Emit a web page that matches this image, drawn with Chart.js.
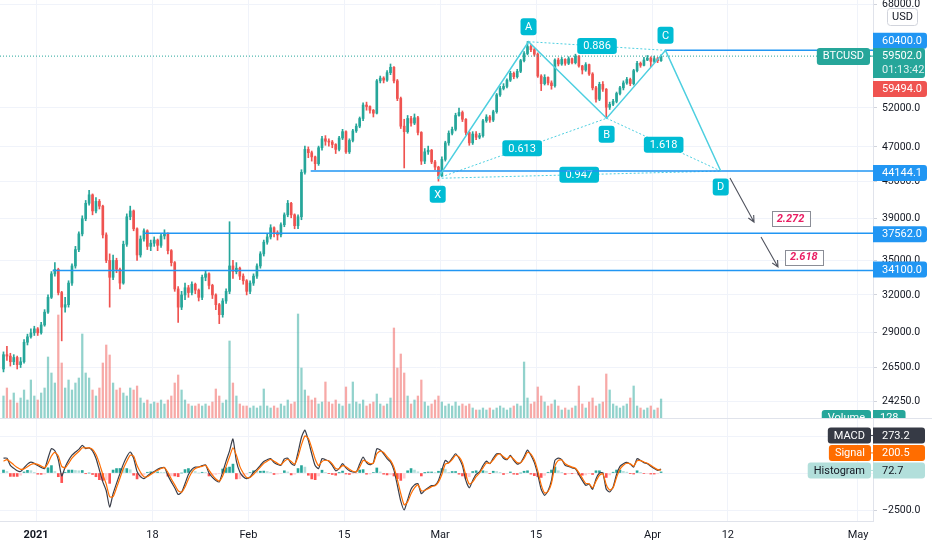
<!DOCTYPE html>
<html>
<head>
<meta charset="utf-8">
<script src="https://cdn.jsdelivr.net/npm/chart.js@4.4.1/dist/chart.umd.min.js"></script>
<style>
  html, body { margin: 0; padding: 0; background: #fff; }
  #wrap { position: relative; width: 932px; height: 550px; overflow: hidden; }
  #main { position: absolute; left: 0; top: 0; }
  #osc { position: absolute; left: 0; top: 419px; }
  #sep { position: absolute; left: 0; top: 418px; width: 932px; height: 1px; background: #e0e3eb; }
</style>
</head>
<body>
<div id="wrap">
  <canvas id="main" width="932" height="418"></canvas>
  <div id="sep"></div>
  <canvas id="osc" width="932" height="131"></canvas>
</div>
<script>
// BTCUSD, 12h candles from 27 Dec 2020; x values are days from 1 Jan 2021
const firstDay = -4.75;
const stepDays = 0.5;
const firstOpen = 26400;

const closes = [
  27400, 27300, 26900, 27200, 26700, 26900, 28300, 28700, 29000, 29300,
  29000, 29600, 30600, 31800, 33800, 34200, 32200, 31000, 31200, 33000,
  34500, 36000, 37500, 39000, 40600, 41500, 39800, 40800, 40300, 37400,
  35000, 33500, 35000, 34200, 33000, 36500, 39200, 39800, 38000, 35500,
  37000, 37800, 36300, 36600, 36900, 36400, 37300, 37500, 35900, 34800,
  32500, 31000, 32000, 32600, 32200, 32900, 32400, 31800, 33500, 33800,
  32800, 32000, 31200, 30400, 31500, 32300, 34500, 34000, 34300, 33600,
  33200, 32300, 33000, 33600, 34500, 35600, 36700, 37200, 38100, 37600,
  37400, 38400, 39400, 40600, 39400, 38300, 39200, 44000, 46700, 46300,
  45800, 45000, 46900, 48000, 47700, 47600, 47300, 46700, 48100, 48900,
  46400, 47800, 49000, 49600, 50600, 52400, 52200, 51700, 51300, 55800,
  56200, 55900, 57000, 57800, 55800, 53300, 49600, 48900, 50600, 50000,
  50700, 48800, 45300, 46400, 46600, 45200, 44600, 43600, 45500, 47500,
  48700, 49200, 51000, 51400, 50500, 48800, 47500, 48600, 48200, 48400,
  50300, 50800, 50400, 51500, 53800, 54700, 55000, 55900, 56900, 56400,
  57200, 58800, 59900, 61000, 60500, 59800, 56500, 55400, 56300, 55500,
  55100, 58900, 58300, 59000, 58400, 59100, 58500, 59500, 58000, 57400,
  58200, 56800, 54800, 53200, 55300, 54600, 52100, 52500, 52900, 54000,
  54800, 55500, 56000, 55400, 57300, 58400, 58100, 58900, 59200, 58700,
  59100, 58800, 59502
];
const highs = [
  27600, 28000, 27500, 27400, 27300, 27200, 28500, 28900, 29300, 29500,
  29400, 29800, 30800, 32000, 34000, 34800, 34300, 32300, 31800, 33200,
  34700, 36300, 37700, 39300, 40900, 42000, 41600, 41200, 41000, 40400,
  37600, 35600, 35500, 35200, 34300, 36800, 39500, 40300, 39900, 38100,
  37300, 38000, 37900, 36900, 37200, 37000, 37500, 37900, 37600, 36000,
  34900, 32700, 32300, 33000, 32800, 33100, 33000, 32500, 33700, 34100,
  33900, 32900, 32100, 31300, 31700, 32500, 38700, 35000, 34800, 34400,
  33800, 33300, 33200, 33800, 34700, 35800, 36900, 37500, 38400, 38200,
  37800, 38600, 39600, 40900, 40700, 39500, 39400, 44300, 47100, 47000,
  46500, 45900, 47100, 48300, 48400, 48000, 47800, 47400, 48300, 49200,
  49000, 48000, 49200, 49900, 50800, 52700, 52800, 52300, 51800, 56000,
  56500, 56400, 57300, 58300, 57900, 56000, 53500, 50500, 51000, 50900,
  51200, 50900, 48900, 46800, 47100, 46700, 45400, 44700, 45800, 47700,
  49000, 49500, 51300, 52000, 51600, 50600, 48900, 48900, 48900, 48700,
  50500, 51100, 51000, 51700, 54000, 55000, 55400, 56100, 57200, 57100,
  57500, 59000, 60200, 61800, 61300, 60700, 60000, 56700, 56700, 56400,
  55800, 59100, 59200, 59300, 59100, 59400, 59200, 59800, 59600, 58100,
  58500, 58300, 57000, 55000, 55600, 55700, 54700, 52800, 53200, 54200,
  55000, 55800, 56300, 56200, 57500, 58700, 58600, 59300, 59600, 59400,
  59500, 59300, 59700
];
const lows = [
  26200, 27000, 26600, 26700, 26400, 26500, 26800, 28100, 28600, 28800,
  28800, 28900, 29500, 30500, 31700, 33600, 32000, 28400, 30600, 31000,
  32800, 34300, 35800, 37300, 38800, 40400, 39400, 39600, 40000, 37100,
  34800, 31000, 33300, 33900, 32500, 32900, 36300, 38900, 37800, 35000,
  35300, 36800, 36000, 35900, 36300, 35900, 36200, 37000, 35600, 34500,
  32300, 29800, 30800, 31600, 31800, 32000, 32100, 31500, 31600, 33200,
  32500, 31700, 30800, 29700, 30200, 31300, 32100, 33400, 33800, 33300,
  32900, 32000, 32100, 32800, 33400, 34300, 35400, 36500, 37000, 37200,
  36900, 37200, 38200, 39200, 39100, 38000, 38000, 38900, 43800, 45700,
  45300, 44300, 44800, 46600, 47200, 47100, 46900, 46200, 46500, 47900,
  46200, 46200, 47600, 48800, 49400, 50300, 51700, 51300, 50800, 51200,
  55500, 55500, 55700, 56700, 55500, 53000, 49300, 44500, 48700, 49600,
  49800, 48500, 44900, 45000, 46100, 45000, 44300, 43000, 43500, 45300,
  47200, 48500, 49000, 50900, 50200, 48500, 47200, 47300, 47900, 48000,
  48200, 50100, 50100, 50200, 51300, 53600, 54500, 54800, 55700, 56100,
  56200, 57000, 58600, 59700, 60200, 59500, 56300, 54400, 55200, 55200,
  54600, 54900, 58000, 58100, 58100, 58200, 58300, 58300, 57800, 56800,
  57200, 56600, 54500, 52800, 53000, 54300, 50700, 51800, 52300, 52700,
  53800, 54500, 55300, 55100, 55200, 57100, 57800, 58000, 58800, 57900,
  58500, 58500, 58700
];
const volumes = [
  22, 30, 18, 25, 15, 20, 28, 18, 38, 22,
  18, 25, 30, 61, 45, 35, 103, 55, 30, 38,
  28, 35, 40, 84, 45, 40, 28, 22, 30, 55,
  73, 63, 35, 28, 30, 25, 22, 30, 28, 32,
  20, 15, 18, 14, 16, 15, 18, 14, 18, 22,
  35, 43, 28, 18, 14, 12, 12, 14, 12, 14,
  12, 16, 29, 22, 15, 18, 77, 35, 22, 14,
  12, 12, 10, 12, 10, 12, 29, 12, 10, 12,
  10, 14, 12, 18, 14, 16, 104, 50, 28, 22,
  18, 20, 14, 16, 36, 16, 14, 18, 14, 12,
  31, 14, 36, 16, 14, 18, 12, 14, 16, 24,
  14, 12, 14, 20, 90, 50, 64, 45, 22, 14,
  18, 22, 38, 16, 12, 14, 18, 22, 16, 12,
  14, 12, 16, 12, 14, 12, 14, 10, 8, 8,
  10, 8, 10, 8, 10, 12, 10, 8, 10, 12,
  14, 12, 56, 20, 14, 16, 31, 22, 16, 12,
  14, 18, 12, 8, 10, 8, 10, 12, 32, 14,
  10, 16, 20, 12, 14, 16, 44, 28, 14, 12,
  10, 12, 14, 20, 32, 12, 10, 8, 10, 12,
  8, 10, 19
];
const macdLine = [
  1000, 1000, 520, 320, 150, 100, 350, 600, 740, 650,
  500, 380, 290, 1000, 1650, 1500, 900, -200, 400, 850,
  1200, 1420, 1600, 1870, 1650, 1700, 1500, 1000, 200, -600,
  -1200, -2300, -1400, -700, -45, 600, 1100, 1420, 1000, 100,
  -250, -380, -200, -20, 100, 250, 350, 380, -160, -600,
  -1000, -1450, -1300, -720, -100, 250, 400, 400, 500, 550,
  0, -300, -500, -600, 70, 800, 1500, 2300, 800, 70,
  -250, -380, -270, 50, 250, 520, 780, 900, 970, 700,
  580, 520, 950, 1000, 650, 520, 1400, 2400, 2900, 2200,
  1300, 500, 300, 970, 900, 800, 520, 150, 300, 630,
  350, 150, 70, 70, 600, 1080, 700, 560, 700, 1640,
  1550, 1300, 970, 750, 200, -830, -1900, -2500, -1800, -1100,
  -800, -720, -1400, -1170, -1000, -850, -830, -500, 200, 855,
  700, 1000, 1300, 1000, 500, -500, -1000, -500, -100, 70,
  500, 800, 630, 1000, 1300, 1300, 1000, 900, 1190, 850,
  600, 700, 1100, 1550, 1200, 700, -100, -1100, -1510, -1200,
  -500, 855, 1000, 900, 520, 450, 350, 290, -100, -500,
  -830, -750, -1100, -400, 0, 0, -1100, -1280, -945, -100,
  450, 630, 720, 600, 400, 970, 850, 700, 630, 450,
  300, 180, 273.2
];
const signalLine = [
  800, 900, 750, 550, 380, 250, 280, 420, 580, 640,
  580, 470, 360, 650, 1150, 1400, 1150, 450, 350, 650,
  1000, 1250, 1450, 1700, 1700, 1700, 1600, 1250, 650, -100,
  -750, -1600, -1600, -1000, -350, 300, 800, 1200, 1150, 500,
  50, -250, -250, -100, 50, 180, 300, 360, 50, -400,
  -800, -1200, -1300, -950, -400, 50, 300, 400, 450, 520,
  200, -150, -400, -550, -200, 450, 1100, 1700, 1200, 450,
  0, -300, -300, -100, 150, 400, 650, 800, 920, 800,
  650, 560, 800, 930, 780, 600, 1100, 1900, 2500, 2350,
  1700, 950, 500, 780, 860, 820, 620, 300, 290, 500,
  420, 250, 120, 80, 400, 850, 780, 630, 670, 1300,
  1480, 1380, 1100, 850, 400, -450, -1400, -2150, -1950, -1400,
  -1000, -800, -1200, -1180, -1070, -920, -860, -620, -100, 600,
  680, 900, 1200, 1080, 700, -150, -750, -600, -250, 0,
  350, 680, 650, 880, 1200, 1280, 1100, 950, 1120, 930,
  700, 700, 980, 1400, 1280, 880, 150, -800, -1350, -1250,
  -700, 450, 850, 880, 620, 500, 400, 320, 30, -350,
  -700, -730, -1000, -550, -150, -50, -800, -1150, -1000, -300,
  250, 520, 660, 620, 470, 820, 840, 740, 660, 520,
  370, 230, 200.5
];

const dateTicks = [0, 17, 31, 45, 59, 73, 90, 101, 120];
const dateLabels = ['2021', '18', 'Feb', '15', 'Mar', '15', 'Apr', '12', 'May'];
const priceTicks = [24250, 26500, 29000, 32000, 35000, 39000, 43000, 47000, 52000, 68000];
const macdTicks = [-2500, 0, 2500];

// XABCD pattern drawn on the chart
const patternNames = ['X', 'A', 'B', 'C', 'D'];
const patternDays = [58.64, 71.9, 83.3, 91.9, 99.96];
const patternPrices = [43320, 61770, 50630, 60400, 44144.1];
const ratioPairs = [[0, 2], [1, 3], [2, 4], [0, 4]];
const ratioLabels = ['0.613', '0.886', '1.618', '0.947'];

const levelPrices = [60400, 44144.1, 37562, 34100];
const levelStartDays = [91.9, 40.1, 15.67, 2.43];

const targetLabels = ['2.272', '2.618'];
const targetDays = [110.15, 112.1];
const targetPrices = [38976, 35300];
const arrowFrom = [[101.31, 43350], [105.84, 37190]];
const arrowTo = [[104.82, 38670], [108.32, 34410]];

const lastPrice = 59502;
const prevClose = 59494;
const countdown = '01:13:42';
const volumeLast = 128;

// view window
const xMin = -5.26, xMax = 122.19;
const priceMin = 23244, priceMax = 68838;
const macdMin = -3243, macdMax = 3649;

Chart.defaults.font.family = 'Roboto, "Noto Sans", sans-serif';
Chart.defaults.color = '#131722';

const gridCol = '#f0f3fa';
const upCol = '#26a69a', downCol = '#ef5350';
const patCol = '#4dcfe0', patBox = '#00bcd4';
const lvlCol = '#2196f3';

const candleDays = closes.map((c, i) => firstDay + i * stepDays);
const opens = closes.map((c, i) => i === 0 ? firstOpen : closes[i - 1]);
const isUp = closes.map((c, i) => c >= opens[i]);

function rr(ctx, x, y, w, h, r) {
  const [tl, tr, br, bl] = Array.isArray(r) ? r : [r, r, r, r];
  ctx.beginPath();
  ctx.moveTo(x + tl, y);
  ctx.lineTo(x + w - tr, y); ctx.quadraticCurveTo(x + w, y, x + w, y + tr);
  ctx.lineTo(x + w, y + h - br); ctx.quadraticCurveTo(x + w, y + h, x + w - br, y + h);
  ctx.lineTo(x + bl, y + h); ctx.quadraticCurveTo(x, y + h, x, y + h - bl);
  ctx.lineTo(x, y + tl); ctx.quadraticCurveTo(x, y, x + tl, y);
  ctx.closePath();
}

function boxText(ctx, cx, cy, text, bg, fg, padX, h) {
  const w = ctx.measureText(text).width + padX * 2;
  ctx.fillStyle = bg;
  rr(ctx, cx - w / 2, cy - h / 2, w, h, 3);
  ctx.fill();
  ctx.fillStyle = fg;
  ctx.textAlign = 'center';
  ctx.textBaseline = 'middle';
  ctx.fillText(text, cx, cy + 0.5);
}

// right-scale tag, optional name tag to its left
function scaleTag(ctx, ax, cy, text, bg, fg, name, nameBg, nameFg) {
  const h = 16;
  const w = Math.max(52, ctx.measureText(text).width + 14);
  ctx.fillStyle = bg;
  rr(ctx, ax, cy - h / 2, w, h, [0, 3, 3, 0]);
  ctx.fill();
  ctx.fillStyle = fg;
  ctx.textAlign = 'left';
  ctx.textBaseline = 'middle';
  ctx.fillText(text, ax + 9, cy + 0.5);
  if (name) {
    const nw = ctx.measureText(name).width + 12;
    ctx.fillStyle = nameBg || bg;
    rr(ctx, ax - 2 - nw, cy - h / 2, nw, h, 3);
    ctx.fill();
    ctx.fillRect(ax - 3, cy - 0.5, 3, 1);
    ctx.fillStyle = nameFg || fg;
    ctx.textAlign = 'center';
    ctx.fillText(name, ax - 2 - nw / 2, cy + 0.5);
  }
}

const pt = i => ({ x: patternDays[i], y: patternPrices[i] });
const lineDs = (label, data, color, width, dash, order) => ({
  type: 'line', label, data, borderColor: color, borderWidth: width, borderDash: dash,
  pointRadius: 0, tension: 0, fill: false, order, yAxisID: 'y', xAxisID: 'x'
});

const mainDecor = {
  id: 'mainDecor',
  afterDatasetDraw(chart, args) {
    // ratio boxes sit under the level lines
    if (chart.data.datasets[args.index].label !== 'XD') return;
    const { x, y } = chart.scales;
    const ctx = chart.ctx;
    ctx.save();
    ctx.font = '11px Roboto, sans-serif';
    ratioPairs.forEach(([a, b], k) => {
      const cx = (x.getPixelForValue(patternDays[a]) + x.getPixelForValue(patternDays[b])) / 2;
      const cy = (y.getPixelForValue(patternPrices[a]) + y.getPixelForValue(patternPrices[b])) / 2;
      boxText(ctx, cx, cy, ratioLabels[k], patBox, '#fff', 6, 16);
    });
    ctx.restore();
  },
  afterDatasetsDraw(chart) {
    const { x, y } = chart.scales;
    const ctx = chart.ctx;
    ctx.save();
    ctx.font = '11px Roboto, sans-serif';
    patternNames.forEach((n, i) => {
      const above = i === 1 || i === 3;
      const cx = x.getPixelForValue(patternDays[i]);
      const cy = y.getPixelForValue(patternPrices[i]) + (above ? -15 : 16);
      ctx.fillStyle = patBox;
      rr(ctx, cx - 8, cy - 8.5, 16, 17, 3);
      ctx.fill();
      ctx.fillStyle = '#fff';
      ctx.textAlign = 'center';
      ctx.textBaseline = 'middle';
      ctx.fillText(n, cx, cy + 0.5);
    });
    // arrows
    ctx.strokeStyle = '#50535e';
    ctx.lineWidth = 1.1;
    arrowFrom.forEach((f, k) => {
      const x0 = x.getPixelForValue(f[0]), y0 = y.getPixelForValue(f[1]);
      const x1 = x.getPixelForValue(arrowTo[k][0]), y1 = y.getPixelForValue(arrowTo[k][1]);
      const a = Math.atan2(y1 - y0, x1 - x0);
      ctx.beginPath();
      ctx.moveTo(x0, y0); ctx.lineTo(x1, y1);
      ctx.moveTo(x1 - 7 * Math.cos(a - 0.45), y1 - 7 * Math.sin(a - 0.45));
      ctx.lineTo(x1, y1);
      ctx.lineTo(x1 - 7 * Math.cos(a + 0.45), y1 - 7 * Math.sin(a + 0.45));
      ctx.stroke();
    });
    // target boxes
    ctx.font = 'italic bold 11px Roboto, sans-serif';
    targetLabels.forEach((t, k) => {
      const cx = x.getPixelForValue(targetDays[k]), cy = y.getPixelForValue(targetPrices[k]);
      const w = ctx.measureText(t).width + 10, h = 15;
      ctx.fillStyle = '#fff';
      ctx.fillRect(cx - w / 2, cy - h / 2, w, h);
      ctx.strokeStyle = '#8a8d96';
      ctx.lineWidth = 1;
      ctx.strokeRect(Math.round(cx - w / 2) + 0.5, Math.round(cy - h / 2) + 0.5, Math.round(w), h);
      ctx.fillStyle = '#e91e63';
      ctx.textAlign = 'center';
      ctx.textBaseline = 'middle';
      ctx.fillText(t, cx, cy + 0.5);
    });
    ctx.restore();
  },
  afterDraw(chart) {
    const y = chart.scales.y;
    const ctx = chart.ctx;
    const ax = chart.chartArea.right;
    ctx.save();
    ctx.font = '11px Roboto, sans-serif';
    const ly = y.getPixelForValue(lastPrice);
    scaleTag(ctx, ax, y.getPixelForValue(levelPrices[0]) - 9.5, levelPrices[0].toFixed(1), lvlCol, '#fff');
    // last price with countdown
    ctx.fillStyle = upCol;
    rr(ctx, ax, ly - 8, 52, 30, [0, 3, 3, 0]);
    ctx.fill();
    ctx.fillStyle = '#fff';
    ctx.textAlign = 'left';
    ctx.textBaseline = 'middle';
    ctx.fillText(lastPrice.toFixed(1), ax + 9, ly + 0.5);
    ctx.fillStyle = 'rgba(255,255,255,0.85)';
    ctx.fillText(countdown, ax + 9, ly + 14);
    const nw = ctx.measureText('BTCUSD').width + 12;
    ctx.fillStyle = upCol;
    rr(ctx, ax - 3 - nw, ly - 8, nw, 17, 3);
    ctx.fill();
    ctx.fillRect(ax - 3, ly - 0.5, 3, 1);
    ctx.fillStyle = '#fff';
    ctx.textAlign = 'center';
    ctx.fillText('BTCUSD', ax - 3 - nw / 2, ly + 0.5);
    scaleTag(ctx, ax, ly + 33, prevClose.toFixed(1), downCol, '#fff');
    const offs = [0, 2, 1, -1];
    for (let i = 1; i < levelPrices.length; i++) {
      scaleTag(ctx, ax, y.getPixelForValue(levelPrices[i]) + offs[i], levelPrices[i].toFixed(1), lvlCol, '#fff');
    }
    // volume tag, cut by the pane edge
    ctx.save();
    ctx.beginPath(); ctx.rect(0, 0, chart.width, chart.height); ctx.clip();
    const vy = chart.height - 8;
    const vw = ctx.measureText(String(volumeLast)).width + 14;
    ctx.fillStyle = upCol;
    rr(ctx, ax, vy, vw, 16, [0, 3, 3, 0]); ctx.fill();
    const vn = ctx.measureText('Volume').width + 12;
    rr(ctx, ax - 2 - vn, vy, vn, 16, 3); ctx.fill();
    ctx.fillStyle = '#fff';
    ctx.textAlign = 'left';
    ctx.fillText(String(volumeLast), ax + 7, vy + 8.5);
    ctx.textAlign = 'center';
    ctx.fillText('Volume', ax - 2 - vn / 2, vy + 8.5);
    ctx.restore();
    // currency box
    ctx.fillStyle = '#fff';
    rr(ctx, 887.5, 8.5, 30, 17, 3); ctx.fill();
    ctx.strokeStyle = '#d1d4dc'; ctx.lineWidth = 1; ctx.stroke();
    ctx.fillStyle = '#131722';
    ctx.textAlign = 'center';
    ctx.fillText('USD', 902.5, 17.5);
    ctx.restore();
  }
};

const mainChart = new Chart(document.getElementById('main'), {
  type: 'bar',
  data: {
    datasets: [
      {
        type: 'bar', label: 'volume', yAxisID: 'v', xAxisID: 'x', order: 10, grouped: false,
        data: volumes.map((v, i) => ({ x: candleDays[i], y: v })),
        backgroundColor: isUp.map(u => u ? 'rgba(38,166,154,0.5)' : 'rgba(239,83,80,0.5)'),
        barThickness: 1.6
      },
      {
        type: 'bar', label: 'wick', yAxisID: 'y', xAxisID: 'x', order: 9, grouped: false,
        data: closes.map((c, i) => ({ x: candleDays[i], y: [lows[i], highs[i]] })),
        backgroundColor: isUp.map(u => u ? upCol : downCol),
        barThickness: 1
      },
      {
        type: 'bar', label: 'body', yAxisID: 'y', xAxisID: 'x', order: 8, grouped: false,
        data: closes.map((c, i) => ({ x: candleDays[i], y: [opens[i], c] })),
        backgroundColor: isUp.map(u => u ? upCol : downCol),
        barThickness: 2, minBarLength: 1
      },
      lineDs('XB', [pt(0), pt(2)], patCol, 1, [2, 2], 7),
      lineDs('AC', [pt(1), pt(3)], patCol, 1, [2, 2], 7),
      lineDs('BD', [pt(2), pt(4)], patCol, 1, [2, 2], 7),
      lineDs('XD', [pt(0), pt(4)], patCol, 1, [2, 2], 6.9),
      ...levelPrices.map((p, i) => lineDs('level' + i, [{ x: levelStartDays[i], y: p }, { x: xMax, y: p }], lvlCol, 1.5, [], 5)),
      lineDs('last', [{ x: xMin, y: lastPrice }, { x: xMax, y: lastPrice }], upCol, 1, [1, 2], 4),
      lineDs('pattern', patternNames.map((n, i) => pt(i)), patCol, 1.5, [], 3)
    ]
  },
  options: {
    responsive: false,
    animation: false,
    events: [],
    layout: { padding: 0 },
    plugins: { legend: { display: false }, tooltip: { enabled: false } },
    scales: {
      x: {
        type: 'linear', min: xMin, max: xMax, offset: false, bounds: 'data',
        afterBuildTicks: s => { s.ticks = dateTicks.map(v => ({ value: v })); },
        ticks: { display: false },
        grid: { color: gridCol, drawTicks: false, offset: false },
        border: { display: false },
        afterFit: s => { s.height = 0; }
      },
      y: {
        type: 'logarithmic', position: 'right', min: priceMin, max: priceMax, bounds: 'data',
        afterBuildTicks: s => { s.ticks = priceTicks.map(v => ({ value: v })); },
        ticks: { autoSkip: false, padding: 5, font: { size: 10.5 }, color: '#131722', callback: v => Number(v).toFixed(1) },
        grid: { color: gridCol, tickLength: 4, tickColor: '#d1d4dc' },
        border: { color: '#e0e3eb' },
        afterFit: s => { s.width = 59; s.paddingTop = 0; s.paddingBottom = 0; }
      },
      v: { type: 'linear', display: false, min: 0, max: 418 }
    }
  },
  plugins: [mainDecor]
});

// MACD pane
const hist = macdLine.map((m, i) => m - signalLine[i]);
const histColors = hist.map((h, i) => {
  const p = i ? hist[i - 1] : h;
  if (h >= 0) return h >= p ? '#26a69a' : '#b2dfdb';
  return h <= p ? '#ff5252' : '#ffcdd2';
});

const oscDecor = {
  id: 'oscDecor',
  afterDraw(chart) {
    const y = chart.scales.y;
    const ctx = chart.ctx;
    const ax = chart.chartArea.right;
    const n = macdLine.length - 1;
    ctx.save();
    ctx.font = '11px Roboto, sans-serif';
    const hy = y.getPixelForValue(hist[n]) - 1.5;
    scaleTag(ctx, ax, hy, hist[n].toFixed(1), '#b2dfdb', '#131722', 'Histogram');
    scaleTag(ctx, ax, hy - 17.5, signalLine[n].toFixed(1), '#ff6d00', '#fff', 'Signal');
    scaleTag(ctx, ax, hy - 35, macdLine[n].toFixed(1), '#363a45', '#fff', 'MACD');
    ctx.restore();
  }
};

new Chart(document.getElementById('osc'), {
  type: 'bar',
  data: {
    datasets: [
      {
        type: 'bar', label: 'Histogram', order: 3, grouped: false,
        data: hist.map((h, i) => ({ x: candleDays[i], y: h })),
        backgroundColor: histColors, barThickness: 2
      },
      {
        type: 'line', label: 'MACD', order: 2,
        data: macdLine.map((m, i) => ({ x: candleDays[i], y: m })),
        borderColor: '#3a3e4a', borderWidth: 1.2, pointRadius: 0, tension: 0.2
      },
      {
        type: 'line', label: 'Signal', order: 1,
        data: signalLine.map((s, i) => ({ x: candleDays[i], y: s })),
        borderColor: '#ff6d00', borderWidth: 1.2, pointRadius: 0, tension: 0.2
      }
    ]
  },
  options: {
    responsive: false,
    animation: false,
    events: [],
    layout: { padding: 0 },
    plugins: { legend: { display: false }, tooltip: { enabled: false } },
    scales: {
      x: {
        type: 'linear', min: xMin, max: xMax, offset: false, bounds: 'data',
        afterBuildTicks: s => { s.ticks = dateTicks.map(v => ({ value: v })); },
        ticks: { autoSkip: false, maxRotation: 0, padding: 8, color: '#131722',
                 font: c => ({ size: 11, weight: c.index === 0 ? 'bold' : 'normal' }),
                 callback: (v, i) => dateLabels[i] },
        grid: { color: gridCol, drawTicks: false, offset: false },
        border: { color: '#e0e3eb' },
        afterFit: s => { s.height = 29; s.paddingLeft = 0; s.paddingRight = 0; }
      },
      y: {
        type: 'linear', position: 'right', min: macdMin, max: macdMax, bounds: 'data',
        afterBuildTicks: s => { s.ticks = macdTicks.map(v => ({ value: v })); },
        ticks: { autoSkip: false, padding: 5, font: { size: 10.5 }, color: '#131722',
                 callback: v => (v < 0 ? '\u2212' : '') + Math.abs(v).toFixed(1) },
        grid: { color: gridCol, tickLength: 4, tickColor: '#d1d4dc' },
        border: { color: '#e0e3eb' },
        afterFit: s => { s.width = 59; s.paddingTop = 0; s.paddingBottom = 0; }
      }
    }
  },
  plugins: [oscDecor]
});
</script>
</body>
</html>
